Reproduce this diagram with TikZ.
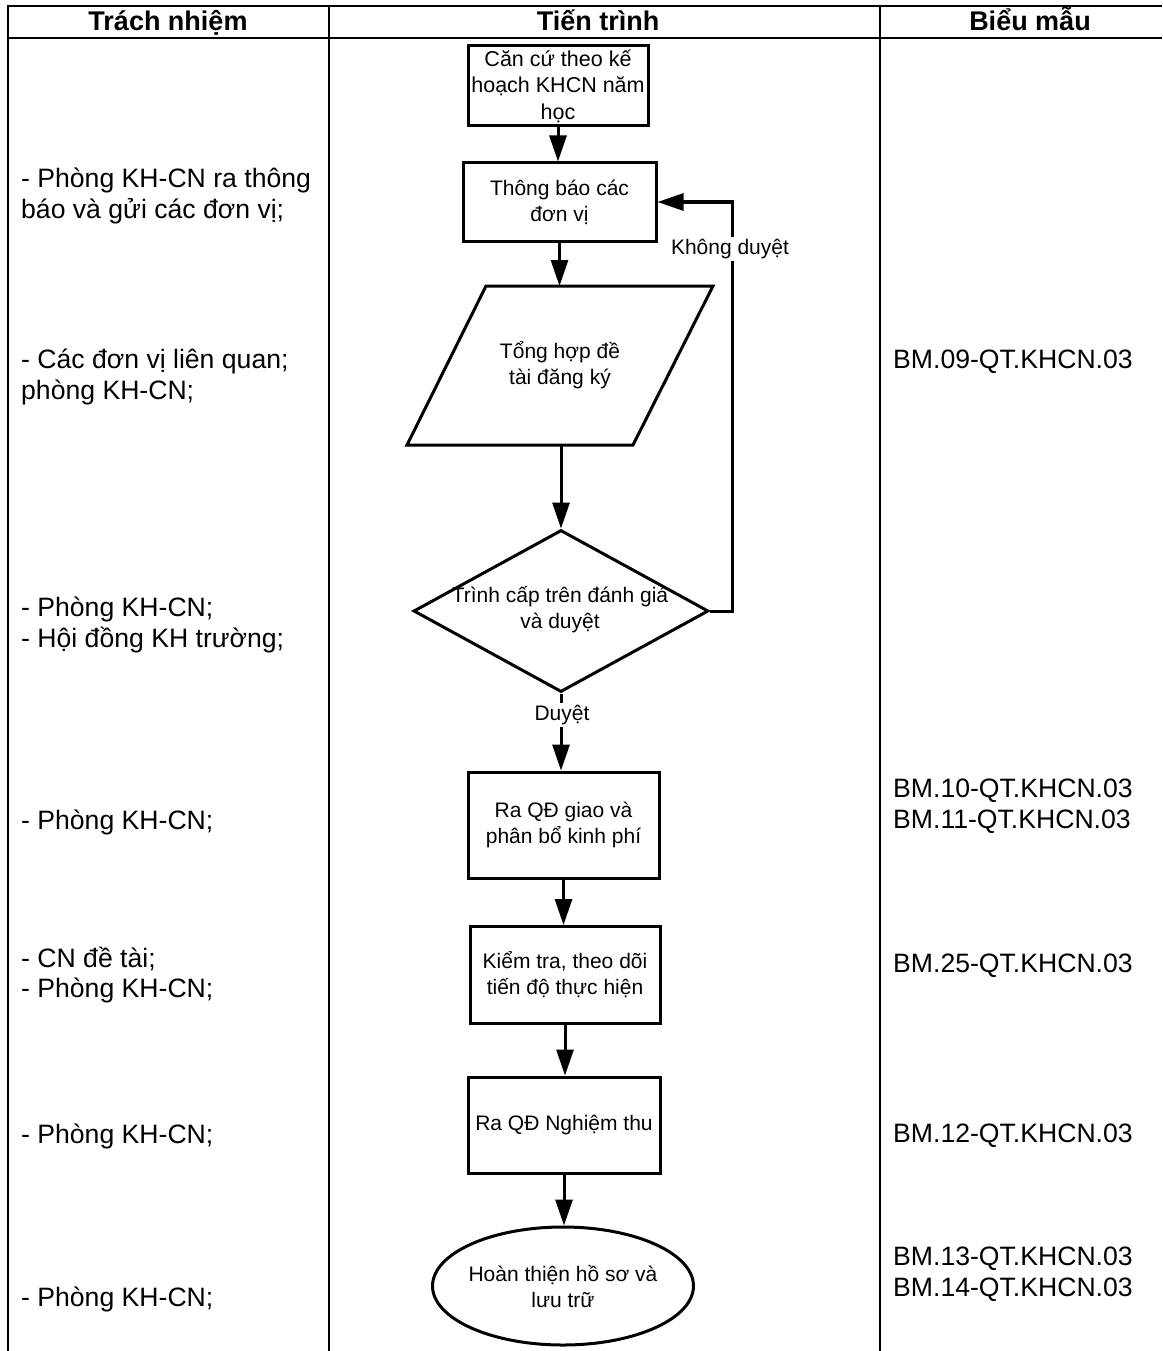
\documentclass[tikz,border=0pt]{standalone}
\usepackage{fontspec}
\setmainfont{Liberation Sans}
\usetikzlibrary{arrows.meta,shapes.geometric}
\begin{document}
\begin{tikzpicture}[x=1pt,y=-1pt,
  grid/.style={line width=2pt},
  shapebox/.style={draw,line width=3pt,inner sep=0pt,align=center,font=\fontsize{21}{26}\selectfont},
  flow/.style={line width=3pt,-{Triangle[length=26pt,width=17pt]}},
  lbl/.style={fill=white,inner sep=2pt,font=\fontsize{21}{26}\selectfont},
  head/.style={font=\bfseries\fontsize{27}{30}\selectfont,inner sep=0pt,anchor=base},
  side/.style={anchor=west,align=left,inner sep=0pt,font=\fontsize{26.6}{30.5}\selectfont}]
\useasboundingbox (0,0) rectangle (1162,1351);
\fill[white] (0,0) rectangle (1162,1351);
% table
\draw[grid] (8,1351) -- (8,6) -- (1162,6);
\draw[grid] (8,38) -- (1162,38);
\draw[grid] (329,6) -- (329,1351);
\draw[grid] (880,6) -- (880,1351);
\node[head] (h1) at (168,31) {Trách nhiệm};
\node[head] (h2) at (598,31) {Tiến trình};
\node[head] (h3) at (1030,31) {Biểu mẫu};
% flow shapes
\node[shapebox,minimum width=180,minimum height=80,font=\fontsize{21.5}{26.5}\selectfont] (b1) at (558,86) {Căn cứ theo kế\\hoạch KHCN năm\\học};
\node[shapebox,minimum width=193,minimum height=78] (b2) at (559.5,202) {Thông báo các\\đơn vị};
\draw[line width=3pt,line join=miter] (486,286) -- (713,286) -- (633,445) -- (407,445) -- cycle;
\coordinate (pT) at (560,286);
\coordinate (pB) at (561,445);
\node[align=center,inner sep=0pt,font=\fontsize{21}{26}\selectfont] (para) at (560,365) {Tổng hợp đề\\tài đăng ký};
\node[diamond,draw,line width=3pt,inner sep=0pt,minimum width=295,minimum height=162] (dia) at (561,611) {};
\node[align=center,inner sep=0pt,font=\fontsize{21}{26}\selectfont] (diat) at (560,610) {Trình cấp trên đánh giá\\và duyệt};
\node[shapebox,minimum width=191,minimum height=106] (b3) at (563.5,825) {Ra QĐ giao và\\phân bổ kinh phí};
\node[shapebox,minimum width=190,minimum height=97] (b4) at (565,975) {Kiểm tra, theo dõi\\tiến độ thực hiện};
\node[shapebox,minimum width=192,minimum height=96] (b5) at (564,1125) {Ra QĐ Nghiệm thu};
\node[ellipse,draw,line width=3pt,inner sep=0pt,minimum width=261,minimum height=118] (ell) at (563,1286) {};
\node[align=center,inner sep=0pt,font=\fontsize{21}{26}\selectfont] (ellt) at (563,1287) {Hoàn thiện hồ sơ và\\lưu trữ};
% connectors
\draw[flow] (b1.south) -- (b1.south |- b2.north);
\draw[flow] (b2.south) -- (b2.south |- pT);
\draw[flow] (pB) -- (dia.north);
\draw[flow] (dia.south) -- (dia.south |- b3.north);
\draw[flow] (b3.south) -- (b3.south |- b4.north);
\draw[flow] (b4.south) -- (b4.south |- b5.north);
\draw[flow] (b5.south) -- (b5.south |- ell.north);
\draw[flow] (dia.east) -- (732,611) |- (b2.east);
\node[lbl] (kd) at (730,249) {Không duyệt};
\node[lbl] (dy) at (562,715) {Duyệt};
% left column
\node[side] (l1) at (21,196) {- Phòng KH-CN ra thông\\báo và gửi các đơn vị;};
\node[side] (l2) at (21,377) {- Các đơn vị liên quan;\\phòng KH-CN;};
\node[side] (l3) at (21,625) {- Phòng KH-CN;\\- Hội đồng KH trường;};
\node[side] (l4) at (21,822) {- Phòng KH-CN;};
\node[side] (l5) at (21,975) {- CN đề tài;\\- Phòng KH-CN;};
\node[side] (l6) at (21,1136) {- Phòng KH-CN;};
\node[side] (l7) at (21,1299) {- Phòng KH-CN;};
% right column
\node[side] (r1) at (893,362) {BM.09-QT.KHCN.03};
\node[side] (r2) at (893,806) {BM.10-QT.KHCN.03\\BM.11-QT.KHCN.03};
\node[side] (r3) at (893,966) {BM.25-QT.KHCN.03};
\node[side] (r4) at (893,1136) {BM.12-QT.KHCN.03};
\node[side] (r5) at (893,1274) {BM.13-QT.KHCN.03\\BM.14-QT.KHCN.03};
\end{tikzpicture}
\end{document}
